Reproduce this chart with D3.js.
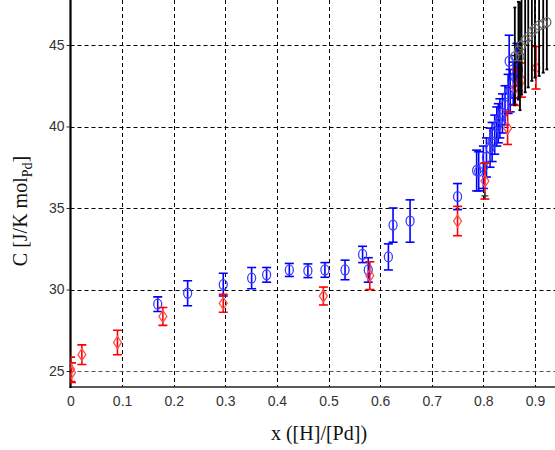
<!DOCTYPE html>
<html>
<head>
<meta charset="utf-8">
<script src="https://cdn.jsdelivr.net/npm/d3@7/dist/d3.min.js"></script>
<style>
  html, body { margin: 0; padding: 0; background: #fff; }
  svg { display: block; }
</style>
</head>
<body>
<svg id="chart" width="555" height="450"></svg>
<script>
// ---- data ----
const xTicks = [0, 0.1, 0.2, 0.3, 0.4, 0.5, 0.6, 0.7, 0.8, 0.9];
const xTickLabels = ["0", "0.1", "0.2", "0.3", "0.4", "0.5", "0.6", "0.7", "0.8", "0.9"];
const yTicks = [25, 30, 35, 40, 45];
const yTickLabels = ["25", "30", "35", "40", "45"];

// red diamonds
const redX = [0.000, 0.002, 0.022, 0.091, 0.179, 0.296, 0.490, 0.580, 0.750, 0.803, 0.847, 0.862, 0.874, 0.902];
const redY = [25.1, 24.9, 26.0, 26.75, 28.35, 29.15, 29.6, 30.85, 34.2, 36.65, 39.9, 42.4, 42.85, 43.6];
const redE = [0.75, 0.6, 0.6, 0.75, 0.55, 0.55, 0.55, 0.85, 0.9, 1.1, 1.0, 1.1, 1.05, 1.3];

// blue circles
const blueX = [0.169, 0.227, 0.296, 0.351, 0.380, 0.424, 0.460, 0.493, 0.532, 0.566, 0.577, 0.616, 0.625, 0.658, 0.750,
               0.787, 0.791, 0.800, 0.806, 0.813, 0.817, 0.822, 0.826, 0.829, 0.832, 0.837, 0.842, 0.848, 0.852, 0.858, 0.861, 0.868, 0.850, 0.865];
const blueY = [29.1, 29.77, 30.3, 30.7, 30.9, 31.2, 31.15, 31.2, 31.2, 32.15, 31.2, 32.0, 33.95, 34.2, 35.7,
               37.3, 37.25, 37.5, 38.1, 38.7, 39.05, 39.5, 40.0, 40.2, 40.5, 40.8, 41.3, 42.0, 42.2, 42.65, 43.05, 43.5, 44.0, 43.8];
const blueE = [0.45, 0.77, 0.7, 0.65, 0.45, 0.4, 0.42, 0.45, 0.6, 0.5, 0.75, 0.8, 1.05, 1.3, 0.8,
               1.25, 1.2, 1.3, 1.2, 1.2, 1.2, 1.2, 1.2, 1.2, 1.2, 1.2, 1.2, 1.2, 1.3, 1.3, 1.3, 1.3, 1.6, 1.3];

// black series
const blackX = [0.861, 0.868, 0.871, 0.874, 0.881, 0.887, 0.894, 0.900, 0.908, 0.916, 0.923];
const blackY = [44.3, 44.65, 44.3, 44.97, 45.3, 45.5, 45.8, 46.0, 46.2, 46.3, 46.4];
const blackE = [3.0, 3.0, 3.3, 3.0, 3.2, 3.1, 3.0, 3.0, 3.1, 3.0, 2.9];

// lone black cross
const crossX = [0.803];
const crossY = [35.75];

// ---- drawing ----
const svg = d3.select("#chart");
const W = 555, H = 450;
const x = d3.scaleLinear().domain([0, 0.94]).range([70.5, 555.6]);
const y = d3.scaleLinear().domain([24, 48]).range([387.3, -3.9]);
const plotTop = 0, plotBottom = 387, plotLeft = 70.5, plotRight = 555;

svg.append("defs").append("clipPath").attr("id", "clip")
  .append("rect").attr("x", plotLeft).attr("y", plotTop)
  .attr("width", plotRight - plotLeft).attr("height", plotBottom - plotTop);

// grid
const grid = svg.append("g");
grid.selectAll("line.v").data(xTicks.filter(d => d > 0)).enter().append("line")
  .attr("x1", d => Math.round(x(d)) + 0.5).attr("x2", d => Math.round(x(d)) + 0.5)
  .attr("y1", plotTop).attr("y2", plotBottom)
  .attr("stroke", "#000").attr("stroke-width", 1).attr("stroke-dasharray", "4,3");
grid.selectAll("line.h").data(yTicks).enter().append("line")
  .attr("x1", plotLeft).attr("x2", plotRight)
  .attr("y1", d => Math.round(y(d)) + 0.5).attr("y2", d => Math.round(y(d)) + 0.5)
  .attr("stroke", d => d === 25 ? "#555" : "#000").attr("stroke-width", 1).attr("stroke-dasharray", "4,3");

// axes
const xAxis = d3.axisBottom(x).tickValues(xTicks).tickFormat((d, i) => xTickLabels[i]).tickSize(0).tickPadding(9);
const gx = svg.append("g").attr("transform", `translate(0,${plotBottom})`).call(xAxis);
gx.select(".domain").remove();
gx.selectAll("text").attr("font-family", "Liberation Sans, Arial, sans-serif").attr("font-size", 14).attr("fill", "#333");

const yAxis = d3.axisLeft(y).tickValues(yTicks).tickFormat((d, i) => yTickLabels[i]).tickSize(4).tickPadding(2);
const gy = svg.append("g").attr("transform", `translate(${plotLeft},0)`).call(yAxis);
gy.select(".domain").remove();
gy.selectAll("line").attr("stroke", "#333");
gy.selectAll("text").attr("font-family", "Liberation Sans, Arial, sans-serif").attr("font-size", 14).attr("fill", "#333");

svg.append("line").attr("x1", plotLeft - 1).attr("x2", W).attr("y1", plotBottom).attr("y2", plotBottom)
  .attr("stroke", "#222").attr("stroke-width", 1.6);
svg.append("line").attr("x1", plotLeft).attr("x2", plotLeft).attr("y1", 0).attr("y2", plotBottom + 1)
  .attr("stroke", "#000").attr("stroke-width", 2.2);

// marks
const marks = svg.append("g").attr("clip-path", "url(#clip)");

function errorBars(g, xs, ys, es, color, sw, cap) {
  const d = xs.map((v, i) => ({ x: v, y: ys[i], e: es[i] }));
  const gg = g.append("g").attr("stroke", color).attr("stroke-width", sw).attr("fill", "none");
  gg.selectAll("line.bar").data(d).enter().append("line")
    .attr("x1", p => x(p.x)).attr("x2", p => x(p.x))
    .attr("y1", p => y(p.y + p.e)).attr("y2", p => y(p.y - p.e));
  gg.selectAll("line.top").data(d).enter().append("line")
    .attr("x1", p => x(p.x) - cap).attr("x2", p => x(p.x) + cap)
    .attr("y1", p => y(p.y + p.e)).attr("y2", p => y(p.y + p.e));
  gg.selectAll("line.bot").data(d).enter().append("line")
    .attr("x1", p => x(p.x) - cap).attr("x2", p => x(p.x) + cap)
    .attr("y1", p => y(p.y - p.e)).attr("y2", p => y(p.y - p.e));
  return d;
}

// blue (drawn first, mostly behind black in the crowded corner)
const blueD = errorBars(marks, blueX, blueY, blueE, "#0000ff", 1.6, 4.5);
marks.append("g").selectAll("ellipse").data(blueD).enter().append("ellipse")
  .attr("cx", p => x(p.x)).attr("cy", p => y(p.y)).attr("rx", 4).attr("ry", 5)
  .attr("fill", "none").attr("stroke", "#3c3cff").attr("stroke-width", 1.3);

// red
const redD = errorBars(marks, redX, redY, redE, "#ff0000", 1.6, 4.5);
marks.append("g").selectAll("path").data(redD).enter().append("path")
  .attr("d", p => { const cx = x(p.x), cy = y(p.y); return `M${cx},${cy - 6}L${cx + 4},${cy}L${cx},${cy + 6}L${cx - 4},${cy}Z`; })
  .attr("fill", "none").attr("stroke", "#ff5050").attr("stroke-width", 1.3);

// black
const blackD = errorBars(marks, blackX, blackY, blackE, "#000", 1.8, 1.5);
marks.append("g").selectAll("ellipse").data(blackD).enter().append("ellipse")
  .attr("cx", p => x(p.x)).attr("cy", p => y(p.y)).attr("rx", 4).attr("ry", 4.5)
  .attr("fill", "none").attr("stroke", "#666").attr("stroke-width", 1.3);

// black cross
marks.append("g").selectAll("path").data(crossX.map((v, i) => ({ x: v, y: crossY[i] }))).enter().append("path")
  .attr("d", p => { const cx = x(p.x), cy = y(p.y); return `M${cx - 3.5},${cy}H${cx + 3.5}M${cx},${cy - 3.5}V${cy + 3.5}`; })
  .attr("stroke", "#333").attr("stroke-width", 1.3);

// axis titles
svg.append("text").attr("x", 319).attr("y", 440).attr("text-anchor", "middle")
  .attr("font-family", "Liberation Serif, Times New Roman, serif").attr("font-size", 20).attr("fill", "#111")
  .text("x ([H]/[Pd])");

const yl = svg.append("text").attr("transform", "translate(27,211) rotate(-90)").attr("text-anchor", "middle")
  .attr("font-family", "Liberation Serif, Times New Roman, serif").attr("font-size", 20).attr("fill", "#111");
yl.append("tspan").text("C [J/K mol");
yl.append("tspan").attr("font-size", 14).attr("dy", 5).text("Pd");
yl.append("tspan").attr("dy", -5).text("]");
</script>
</body>
</html>
